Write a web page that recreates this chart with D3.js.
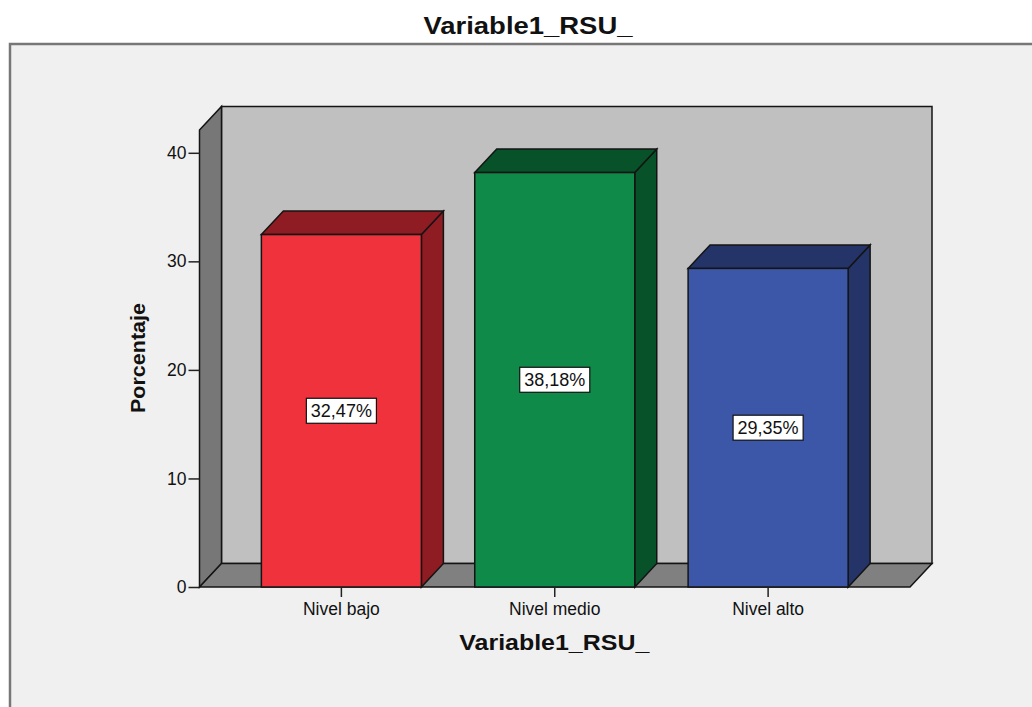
<!DOCTYPE html>
<html>
<head>
<meta charset="utf-8">
<script src="https://cdn.jsdelivr.net/npm/d3@7/dist/d3.min.js"></script>
<style>
  html, body { margin: 0; padding: 0; background: #ffffff; }
  svg { display: block; }
  text { font-family: "Liberation Sans", Arial, sans-serif; fill: #111; }
</style>
</head>
<body>
<svg id="chart" width="1032" height="707"></svg>
<script>
// Data
const categories = ["Nivel bajo", "Nivel medio", "Nivel alto"];
const percentages = [32.47, 38.18, 29.35];
const valueLabels = ["32,47%", "38,18%", "29,35%"];
const yTicks = [0, 10, 20, 30, 40];
const frontColors = ["#ef323b", "#0f8a48", "#3d57a8"];
const sideColors = ["#8e1c22", "#075228", "#243468"];
const chartTitle = "Variable1_RSU_";
const xTitle = "Variable1_RSU_";
const yTitle = "Porcentaje";

const svg = d3.select("#chart");
const W = 1032, H = 707;

// Plot geometry (front plane of the 3D box) and depth offset
const plotL = 199.5, plotR = 910, plotT = 130, plotB = 587;
const dx = 22, dy = 23.5;

const x = d3.scaleBand().domain(categories).range([plotL, plotR])
  .paddingInner(0.25).paddingOuter(0.29);
const y = d3.scaleLinear().domain([0, 42.1]).range([plotB, plotT]);

// Page background and chart frame
svg.append("rect").attr("width", W).attr("height", H).attr("fill", "#ffffff");
svg.append("rect").attr("x", 10).attr("y", 44).attr("width", W).attr("height", H)
  .attr("fill", "#f0f0f0");
svg.append("path").attr("d", `M10,${H} V44 H${W}`)
  .attr("fill", "none").attr("stroke", "#777").attr("stroke-width", 2.5);

// Title
svg.append("text").attr("x", 528).attr("y", 34).attr("text-anchor", "middle")
  .attr("font-size", 23).attr("font-weight", "bold")
  .attr("textLength", 209).attr("lengthAdjust", "spacingAndGlyphs")
  .text(chartTitle);

const stroke = "#141414";
const g = svg.append("g");

// Back wall
g.append("rect").attr("x", plotL + dx).attr("y", plotT - dy)
  .attr("width", plotR - plotL).attr("height", plotB - plotT)
  .attr("fill", "#c0c0c0").attr("stroke", stroke).attr("stroke-width", 1.5);
// Left wall
g.append("path")
  .attr("d", `M${plotL},${plotT} L${plotL + dx},${plotT - dy} L${plotL + dx},${plotB - dy} L${plotL},${plotB} Z`)
  .attr("fill", "#777777").attr("stroke", stroke).attr("stroke-width", 1.5);
// Floor
g.append("path")
  .attr("d", `M${plotL},${plotB} L${plotL + dx},${plotB - dy} L${plotR + dx},${plotB - dy} L${plotR},${plotB} Z`)
  .attr("fill", "#808080").attr("stroke", stroke).attr("stroke-width", 1.5);

// Y axis ticks and labels on the front edge of the left wall
const yAxis = d3.axisLeft(y).tickValues(yTicks).tickSize(11).tickPadding(2).tickFormat(d3.format("d"));
const ya = svg.append("g").attr("transform", `translate(${plotL},0)`).call(yAxis);
ya.select(".domain").remove();
ya.selectAll(".tick line").attr("stroke", "#222").attr("stroke-width", 1.5);
ya.selectAll(".tick text").attr("font-size", 17.5).attr("fill", "#222")
  .attr("font-family", "'Liberation Sans', Arial, sans-serif");

// X axis ticks and category labels
const xAxis = d3.axisBottom(x).tickSize(10).tickPadding(6);
const xa = svg.append("g").attr("transform", `translate(0,${plotB})`).call(xAxis);
xa.select(".domain").remove();
xa.selectAll(".tick line").attr("stroke", "#222").attr("stroke-width", 1.5);
xa.selectAll(".tick text").attr("font-size", 17.5).attr("fill", "#222")
  .attr("font-family", "'Liberation Sans', Arial, sans-serif");

// 3D bars
const bars = g.selectAll(".bar").data(categories).join("g").attr("class", "bar");
bars.each(function(c, i) {
  const b = d3.select(this);
  const x0 = x(c), x1 = x(c) + x.bandwidth();
  const yt = y(percentages[i]), yb = y(0);
  // side face
  b.append("path")
    .attr("d", `M${x1},${yt} L${x1 + dx},${yt - dy} L${x1 + dx},${yb - dy} L${x1},${yb} Z`)
    .attr("fill", sideColors[i]).attr("stroke", stroke).attr("stroke-width", 1.5);
  // top face
  b.append("path")
    .attr("d", `M${x0},${yt} L${x0 + dx},${yt - dy} L${x1 + dx},${yt - dy} L${x1},${yt} Z`)
    .attr("fill", sideColors[i]).attr("stroke", stroke).attr("stroke-width", 1.5);
  // front face
  b.append("rect").attr("x", x0).attr("y", yt)
    .attr("width", x.bandwidth()).attr("height", yb - yt)
    .attr("fill", frontColors[i]).attr("stroke", stroke).attr("stroke-width", 1.5);

  // value label box at the middle of the front face
  const cx = x0 + x.bandwidth() / 2, cy = (yt + yb) / 2;
  const lab = b.append("g");
  const t = lab.append("text").attr("x", cx).attr("y", cy + 6.5)
    .attr("text-anchor", "middle").attr("font-size", 18).attr("fill", "#111")
    .text(valueLabels[i]);
  const bb = t.node().getBBox();
  lab.insert("rect", "text")
    .attr("x", cx - (bb.width + 9) / 2).attr("y", cy - 12.5)
    .attr("width", bb.width + 9).attr("height", 25)
    .attr("fill", "#ffffff").attr("stroke", "#111").attr("stroke-width", 1.2);
});

// Axis titles
svg.append("text").attr("x", 554.3).attr("y", 649.5).attr("text-anchor", "middle")
  .attr("font-size", 22).attr("font-weight", "bold")
  .attr("textLength", 190).attr("lengthAdjust", "spacingAndGlyphs")
  .text(xTitle);
svg.append("text").attr("transform", "translate(145,358) rotate(-90)")
  .attr("text-anchor", "middle").attr("font-size", 21).attr("font-weight", "bold")
  .attr("textLength", 110).attr("lengthAdjust", "spacingAndGlyphs")
  .text(yTitle);
</script>
</body>
</html>
